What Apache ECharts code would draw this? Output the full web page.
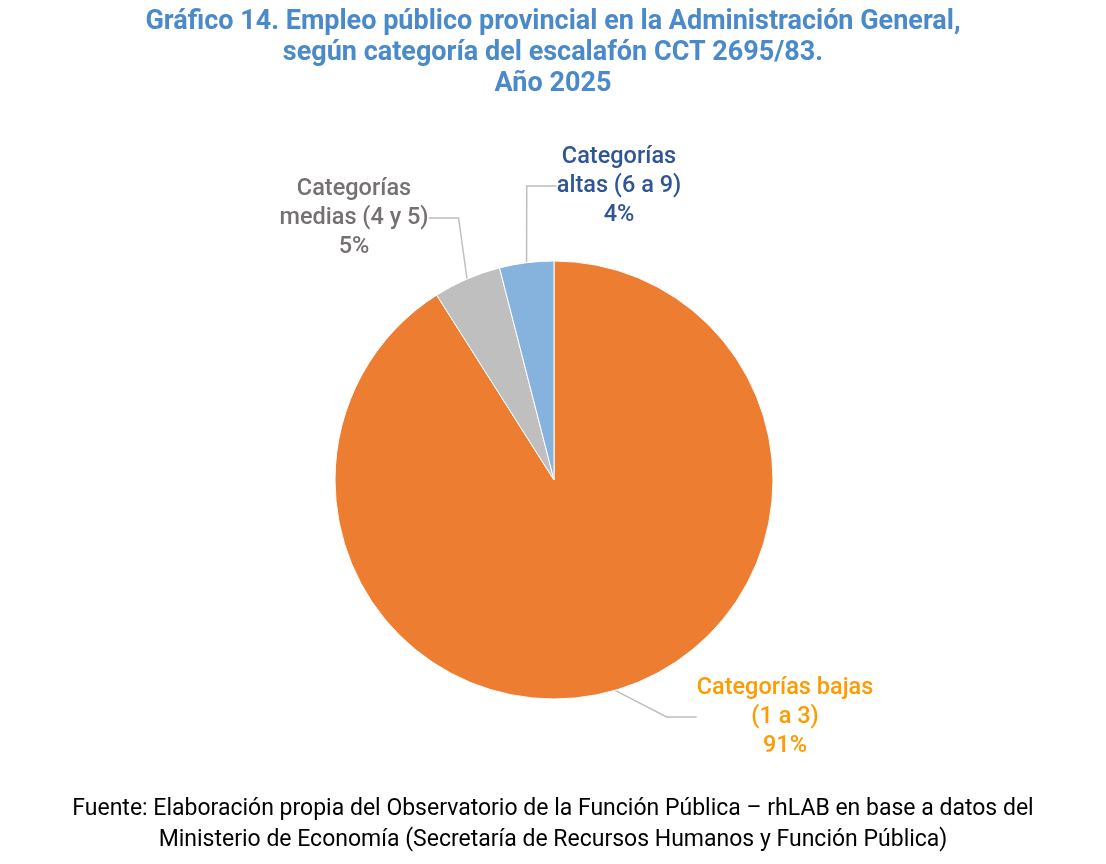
<!DOCTYPE html>
<html>
<head>
<meta charset="utf-8">
<script src="https://cdn.jsdelivr.net/npm/echarts@6/dist/echarts.min.js"></script>
<style>
  html, body { margin: 0; padding: 0; background: #fff; }
  #chart { width: 1106px; height: 864px; }
</style>
</head>
<body>
<div id="chart"></div>
<script>
// datos del gráfico
const categorias = ['Categorías bajas\n(1 a 3)', 'Categorías\nmedias (4 y 5)', 'Categorías\naltas (6 a 9)'];
const porcentajes = [91, 5, 4];
const coloresSector = ['#ed7d31', '#bfbfbf', '#85b3dd'];
const coloresEtiqueta = ['#ff9a00', '#767171', '#2f5597'];

// posiciones de etiquetas (centro del bloque de texto)
const posEtiquetas = [[785, 717], [354, 218], [619, 186]];

const chart = echarts.init(document.getElementById('chart'));

const option = {
  animation: false,
  title: [
    {
      text: 'Gráfico 14. Empleo público provincial en la Administración General,\nsegún categoría del escalafón CCT 2695/83.\nAño 2025',
      left: 'center',
      top: 2,
      textStyle: {
        fontFamily: 'Roboto, sans-serif',
        fontSize: 27,
        fontWeight: 'bold',
        color: '#4a8acb',
        lineHeight: 31,
        align: 'center'
      }
    },
    {
      text: 'Fuente: Elaboración propia del Observatorio de la Función Pública – rhLAB en base a datos del\nMinisterio de Economía (Secretaría de Recursos Humanos y Función Pública)',
      left: 'center',
      top: 789,
      textStyle: {
        fontFamily: 'Roboto, sans-serif',
        fontSize: 23,
        fontWeight: 'normal',
        color: '#000',
        lineHeight: 31,
        align: 'center'
      }
    }
  ],
  series: [
    {
      type: 'pie',
      center: [554, 480],
      radius: 219,
      startAngle: 90,
      clockwise: true,
      itemStyle: { borderColor: '#fff', borderWidth: 1 },
      label: {
        show: true,
        position: 'outside',
        fontFamily: 'Roboto, sans-serif',
        fontSize: 23.5,
        fontWeight: 500,
        lineHeight: 29,
        align: 'center',
        formatter: (p) => p.name + '\n' + p.value + '%'
      },
      labelLine: {
        show: true,
        lineStyle: { color: '#bfbfbf', width: 1.5 }
      },
      labelLayout: (params) => {
        const pos = posEtiquetas[params.dataIndex];
        return { x: pos[0], y: pos[1], align: 'center', verticalAlign: 'middle' };
      },
      emphasis: { disabled: true },
      data: categorias.map((c, i) => ({
        name: c,
        value: porcentajes[i],
        itemStyle: { color: coloresSector[i] },
        label: { color: coloresEtiqueta[i] }
      }))
    }
  ]
};

chart.setOption(option);
</script>
</body>
</html>
